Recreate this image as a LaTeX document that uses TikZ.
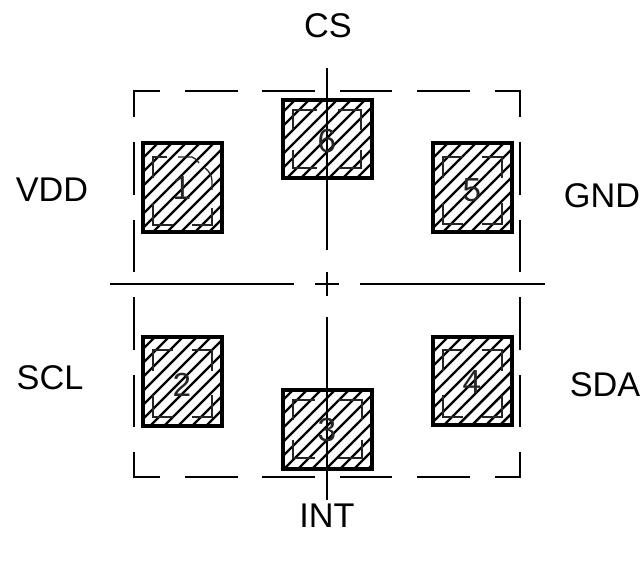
\documentclass[tikz,border=0pt]{standalone}
\usepackage{fontspec}
\setmainfont{Liberation Sans}
% #1 x1, #2 y1, #3 x2, #4 y2, #5 one value of x+y on which a hatch line lies
\newcommand{\padbox}[5]{%
  \begin{scope}
    \clip (#1,#2) rectangle (#3,#4);
    \foreach \k in {-12,...,12} {
      \pgfmathsetmacro{\c}{#5+14*\k}
      \draw[hatchline] (\c,0) -- (0,\c);
    }
  \end{scope}
  \draw[padline] (#1,#2) rectangle (#3,#4);
}
% #1 x1, #2 y1, #3 x2, #4 y2, #5 left dash end, #6 right dash start, #7 top dash end, #8 bottom dash start
\newcommand{\innerbox}[8]{%
  \draw[innerline] (#5,#2) -- (#1,#2) -- (#1,#7);
  \draw[innerline] (#6,#2) -- (#3,#2) -- (#3,#7);
  \draw[innerline] (#1,#8) -- (#1,#4) -- (#5,#4);
  \draw[innerline] (#3,#8) -- (#3,#4) -- (#6,#4);
}
\tikzset{
  x=0.75pt,y=-0.75pt,
  hatchline/.style={line width=1.85pt,black},
  padline/.style={line width=2.3pt,black,line join=miter},
  innerline/.style={line width=1pt,black!85},
  refline/.style={line width=1.25pt,black},
  pinlabel/.style={font=\fontsize{25.7}{30}\selectfont,text=black,inner sep=0pt},
  padnum/.style={font=\fontsize{25}{30}\selectfont,text=black!85,inner sep=0pt},
}
\begin{document}
\begin{tikzpicture}
\useasboundingbox (0,0) rectangle (644,561);
\fill[white] (0,0) rectangle (644,561);
% outer dashed outline
\draw[refline] (160,91) -- (134,91) -- (134,117);
\draw[refline] (185,91) -- (238,91);
\draw[refline] (262,91) -- (315,91);
\draw[refline] (340,91) -- (392,91);
\draw[refline] (417,91) -- (470,91);
\draw[refline] (495,91) -- (520,91) -- (520,117);
\draw[refline] (134,142) -- (134,195);
\draw[refline] (134,220) -- (134,272);
\draw[refline] (134,297) -- (134,350);
\draw[refline] (134,375) -- (134,427);
\draw[refline] (134,452) -- (134,477) -- (160,477);
\draw[refline] (520,142) -- (520,195);
\draw[refline] (520,220) -- (520,272);
\draw[refline] (520,297) -- (520,350);
\draw[refline] (520,375) -- (520,427);
\draw[refline] (520,452) -- (520,477) -- (495,477);
\draw[refline] (185,477) -- (238,477);
\draw[refline] (262,477) -- (315,477);
\draw[refline] (340,477) -- (392,477);
\draw[refline] (417,477) -- (470,477);
% pads
\padbox{143}{143}{222}{232}{301}
\padbox{433}{143}{512}{232}{591}
\padbox{283}{100}{372}{178}{395}
\padbox{143}{337}{222}{426}{492}
\padbox{433}{337}{512}{425}{785}
\padbox{283}{390}{372}{469}{683}
% inner outlines
\draw[innerline] (167,157) -- (153,157) -- (153,178);
\draw[innerline] (178,157) -- (192,157) .. controls (195,158) and (197,160) .. (199,163);
\draw[innerline] (205,168) .. controls (209,171) and (212,176) .. (212,181) -- (212,190);
\draw[innerline] (153,203) -- (153,225) -- (173,225);
\draw[innerline] (212,208) -- (212,225) -- (192,225);
\innerbox{443}{157}{502}{224}{463}{482}{178}{203}
\innerbox{293}{110}{361}{168}{317}{338}{130}{150}
\innerbox{153}{350}{212}{417}{173}{192}{371}{395}
\innerbox{443}{350}{502}{417}{463}{482}{371}{395}
\innerbox{293}{400}{362}{458}{315}{338}{420}{440}
% centre lines
\draw[refline] (110,284) -- (294,284);
\draw[refline] (315,284) -- (339,284);
\draw[refline] (360,284) -- (545,284);
\draw[refline] (327,68) -- (327,250);
\draw[refline] (327,272) -- (327,296);
\draw[refline] (327,317) -- (327,500);
% pad numbers
\node[padnum] (n1) at (182,188) {1};
\node[padnum] (n6) at (327,141) {6};
\node[padnum] (n5) at (472,190) {5};
\node[padnum] (n2) at (182,385) {2};
\node[padnum] (n3) at (327,430) {3};
\node[padnum] (n4) at (472,382) {4};
% pin labels
\node[pinlabel] (cs) at (328,26) {CS};
\node[pinlabel] (vdd) at (52,190) {VDD};
\node[pinlabel] (gnd) at (602,196) {GND};
\node[pinlabel] (scl) at (50,378) {SCL};
\node[pinlabel] (sda) at (605,385) {SDA};
\node[pinlabel] (int) at (327,516) {INT};
\end{tikzpicture}
\end{document}
